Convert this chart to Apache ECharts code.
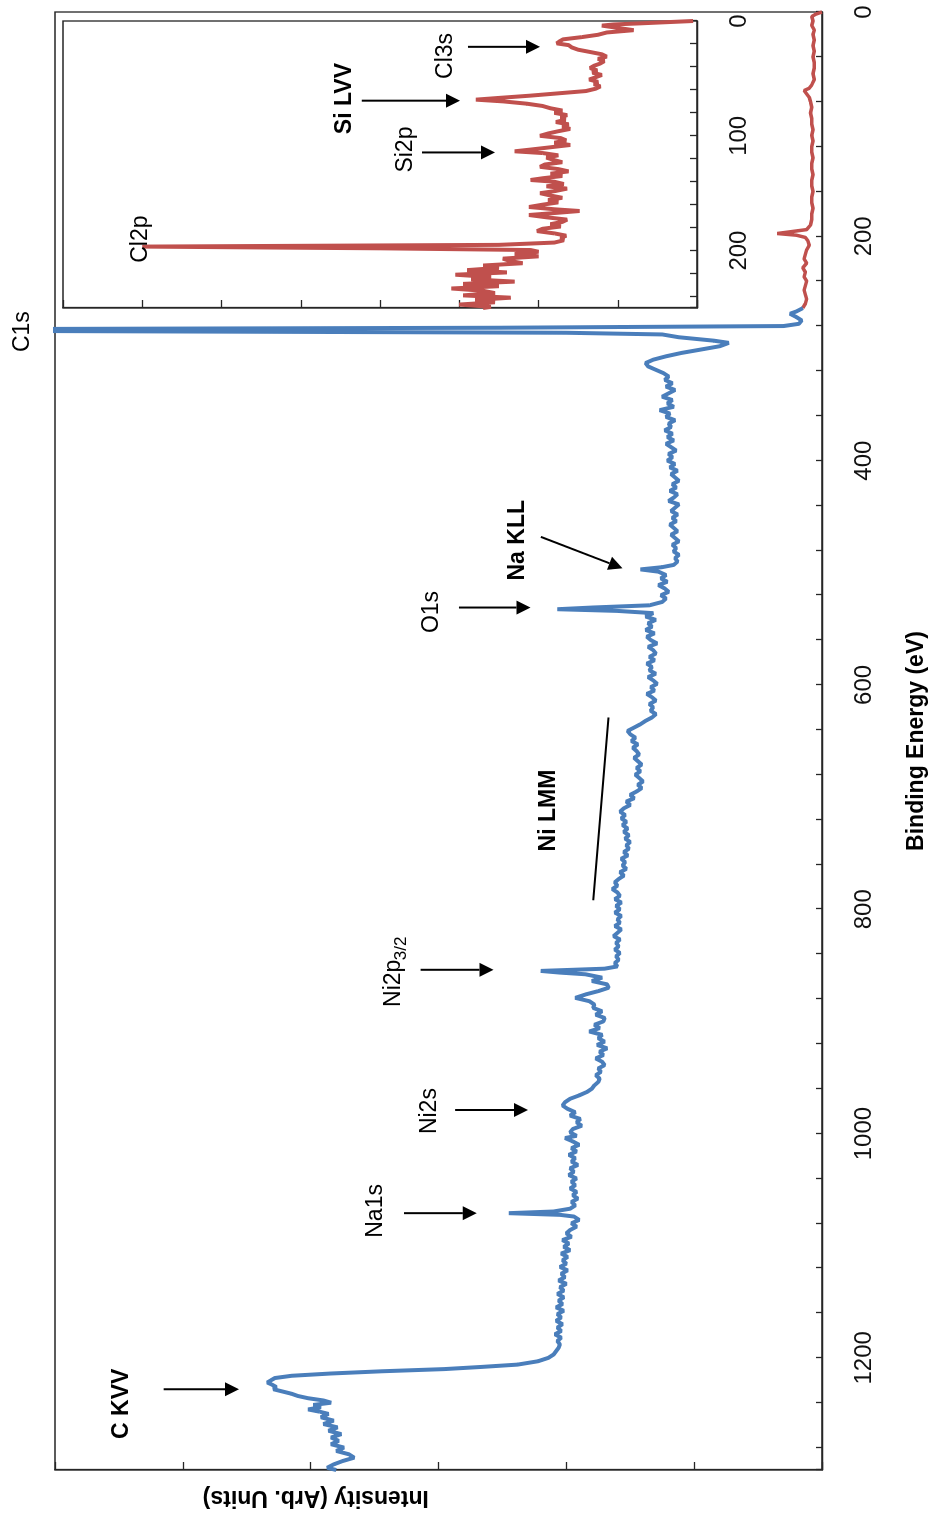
<!DOCTYPE html>
<html>
<head>
<meta charset="utf-8">
<title>XPS survey spectrum</title>
<script src="https://cdn.jsdelivr.net/npm/echarts@6/dist/echarts.min.js"></script>
<style>
  html, body { margin: 0; padding: 0; background: #fff; overflow: hidden; }
  /* drawn landscape, then turned a quarter turn like the printed figure */
  #spectrum {
    position: absolute;
    width: 1519px;
    height: 935px;
    left: -292px;
    top: 292px;
    transform: rotate(-90deg);
  }
</style>
</head>
<body>
<div id="spectrum"></div>
<script>
  // low binding energy part of the survey (red) 0-264 eV
  const lowEnergy = [0, 2, 4, 8, 12, 16, 20, 25, 30, 35, 40, 45, 50, 55, 60, 65, 68, 70, 73, 76,
    80, 85, 90, 95, 100, 105, 110, 115, 120, 125, 130, 135, 140, 145, 150, 155, 160, 165, 170, 175,
    180, 185, 190, 194, 196, 197.5, 199, 201, 204, 208, 212, 216, 220, 224, 228, 232, 236, 240, 244, 248,
    252, 256, 260, 264];
  const lowIntensity = [0.0, 0.05, 0.08, 0.07, 0.08, 0.06, 0.07, 0.06, 0.07, 0.06, 0.07, 0.06, 0.06, 0.07, 0.06, 0.08, 0.10, 0.14, 0.12, 0.10,
    0.09, 0.08, 0.09, 0.08, 0.08, 0.07, 0.08, 0.07, 0.08, 0.08, 0.07, 0.08, 0.08, 0.07, 0.08, 0.08, 0.07, 0.08, 0.08, 0.07,
    0.08, 0.08, 0.09, 0.12, 0.25, 0.35, 0.20, 0.13, 0.11, 0.10, 0.12, 0.13, 0.14, 0.12, 0.15, 0.13, 0.14, 0.12, 0.13, 0.14,
    0.13, 0.12, 0.13, 0.15];

  // rest of the survey (blue) 264-1300 eV
  const surveyEnergy = [264, 267, 269, 272, 275, 278, 280, 281.5, 283, 284.5,
    286, 287.5, 290, 293, 295, 298, 301, 304, 307, 310,
    313, 316, 319, 322, 325, 328, 331, 334, 337, 340,
    343, 346, 349, 352, 355, 358, 361, 364, 367, 370,
    373, 376, 379, 382, 385, 388, 391, 394, 397, 400,
    403, 406, 409, 412, 415, 418, 421, 424, 427, 430,
    433, 436, 439, 442, 445, 448, 451, 454, 457, 460,
    463, 466, 469, 472, 475, 478, 481, 484, 487, 490,
    493, 495, 497, 499, 502, 505, 508, 511, 514, 517,
    520, 523, 526, 529, 531, 532.5, 534, 536, 539, 542,
    545, 548, 551, 554, 557, 560, 563, 566, 569, 572,
    575, 578, 581, 584, 587, 590, 593, 596, 599, 602,
    605, 608, 611, 614, 617, 620, 623, 626, 629, 632,
    635, 638, 641, 644, 647, 650, 653, 656, 659, 662,
    665, 668, 671, 674, 677, 680, 683, 686, 689, 692,
    695, 698, 701, 704, 707, 710, 713, 716, 719, 722,
    725, 728, 731, 734, 737, 740, 743, 746, 749, 752,
    755, 758, 761, 764, 767, 770, 773, 776, 779, 782,
    785, 788, 791, 794, 797, 800, 803, 806, 809, 812,
    815, 818, 821, 824, 827, 830, 833, 836, 839, 842,
    845, 848, 851, 853, 855, 856.5, 858, 861, 864, 867,
    870, 873, 876, 879, 882, 885, 888, 891, 894, 897,
    900, 903, 906, 909, 912, 915, 918, 921, 924, 927,
    930, 933, 936, 939, 942, 945, 948, 951, 954, 957,
    960, 963, 966, 969, 972, 975, 978, 981, 984, 987,
    990, 993, 996, 999, 1002, 1004, 1007, 1010, 1013, 1016,
    1019, 1022, 1025, 1028, 1031, 1034, 1037, 1040, 1043, 1046,
    1049, 1052, 1055, 1058, 1061, 1064, 1067, 1069.5, 1071, 1072.5,
    1074, 1077, 1080, 1083, 1086, 1089, 1092, 1095, 1098, 1101,
    1104, 1107, 1110, 1113, 1116, 1119, 1122, 1125, 1128, 1131,
    1134, 1137, 1140, 1143, 1146, 1149, 1152, 1155, 1158, 1161,
    1164, 1167, 1170, 1173, 1176, 1179, 1182, 1185, 1188, 1191,
    1194, 1197, 1200, 1203, 1206, 1208, 1210, 1212, 1214, 1216,
    1218, 1220, 1222, 1224, 1226, 1228, 1230, 1232, 1234, 1236,
    1238, 1240, 1242, 1244, 1246, 1248, 1250, 1253, 1256, 1259,
    1262, 1265, 1268, 1271, 1274, 1277, 1280, 1283, 1286, 1289,
    1292, 1295, 1298, 1300];
  const surveyIntensity = [0.15, 0.20, 0.25, 0.20, 0.16, 0.18, 0.30, 2.5, 7.5, 6.0,
    2.0, 1.25, 1.12, 0.85, 0.73, 0.80, 0.95, 1.10, 1.22, 1.32,
    1.38, 1.36, 1.30, 1.24, 1.20, 1.23, 1.17, 1.22, 1.15, 1.20,
    1.25, 1.17, 1.21, 1.16, 1.27, 1.19, 1.22, 1.15, 1.20, 1.18,
    1.23, 1.17, 1.21, 1.16, 1.22, 1.18, 1.14, 1.20, 1.17, 1.21,
    1.15, 1.19, 1.13, 1.18, 1.15, 1.12, 1.17, 1.14, 1.19, 1.13,
    1.16, 1.20, 1.12, 1.15, 1.18, 1.13, 1.17, 1.14, 1.19, 1.16,
    1.13, 1.18, 1.15, 1.12, 1.17, 1.14, 1.16, 1.12, 1.15, 1.13,
    1.16, 1.25, 1.42, 1.28, 1.22, 1.26, 1.21, 1.28, 1.23, 1.20,
    1.26, 1.22, 1.25, 1.35, 1.80, 2.07, 1.60, 1.32, 1.38, 1.30,
    1.36, 1.33, 1.38, 1.31, 1.37, 1.34, 1.29, 1.36, 1.32, 1.30,
    1.35, 1.31, 1.37, 1.33, 1.35, 1.30, 1.36, 1.32, 1.29, 1.34,
    1.31, 1.37, 1.33, 1.30, 1.35, 1.32, 1.34, 1.30, 1.33, 1.38,
    1.42, 1.47, 1.52, 1.50, 1.46, 1.49, 1.44, 1.48, 1.45, 1.43,
    1.47, 1.44, 1.41, 1.45, 1.42, 1.46, 1.43, 1.40, 1.44, 1.41,
    1.45, 1.50, 1.47, 1.53, 1.50, 1.55, 1.58, 1.54, 1.57, 1.53,
    1.56, 1.52, 1.55, 1.51, 1.54, 1.50, 1.53, 1.51, 1.55, 1.52,
    1.57, 1.54, 1.56, 1.53, 1.58, 1.55, 1.59, 1.62, 1.60, 1.64,
    1.60, 1.58, 1.62, 1.57, 1.61, 1.58, 1.62, 1.57, 1.60, 1.58,
    1.62, 1.57, 1.60, 1.63, 1.58, 1.61, 1.59, 1.62, 1.58, 1.61,
    1.59, 1.62, 1.60, 1.70, 2.20, 2.05, 1.85, 1.72, 1.80, 1.68,
    1.67, 1.75, 1.85, 1.93, 1.82, 1.78, 1.79, 1.72, 1.77, 1.70,
    1.71, 1.78, 1.74, 1.82, 1.72, 1.75, 1.70, 1.76, 1.68, 1.74,
    1.71, 1.77, 1.72, 1.70, 1.75, 1.73, 1.77, 1.74, 1.75, 1.78,
    1.80, 1.84, 1.90, 1.97, 2.01, 2.03, 1.99, 1.93, 1.97, 1.89,
    1.92, 1.88, 1.95, 1.97, 1.92, 2.01, 1.95, 1.90, 1.96, 1.92,
    1.98, 1.93, 1.96, 1.91, 1.97, 1.94, 1.98, 1.92, 1.96, 1.93,
    1.97, 1.92, 1.95, 1.91, 1.96, 1.93, 1.97, 2.10, 2.45, 2.05,
    1.94, 1.90, 1.96, 1.92, 1.97, 2.00, 1.96, 2.03, 1.98, 2.02,
    1.97, 2.04, 1.99, 2.03, 2.00, 2.05, 1.99, 2.04, 2.01, 2.06,
    2.00, 2.05, 2.02, 2.07, 2.02, 2.06, 2.03, 2.08, 2.02, 2.07,
    2.04, 2.08, 2.03, 2.07, 2.04, 2.09, 2.04, 2.07, 2.05, 2.06,
    2.08, 2.10, 2.14, 2.22, 2.38, 2.65, 2.95, 3.45, 3.85, 4.15,
    4.28, 4.31, 4.34, 4.30, 4.27, 4.29, 4.22, 4.15, 4.10, 4.02,
    3.90, 3.84, 3.98, 3.92, 4.02, 3.93, 3.86, 3.92, 3.82, 3.90,
    3.79, 3.86, 3.76, 3.84, 3.78, 3.84, 3.74, 3.80, 3.70, 3.66,
    3.75, 3.82, 3.87, 3.80];

  // inset: 0-250 eV window, own intensity scale
  const insetEnergy = [0, 1, 2, 3, 4, 6, 8, 10, 12, 14, 16, 18, 19.5, 21, 23, 25, 27, 29, 31, 33,
    35, 37, 39, 41, 43, 45, 47, 49, 51, 53, 55, 57, 59, 61, 63, 65, 67, 68.5, 70, 72,
    74, 76, 78, 80, 82, 84, 86, 88, 90, 92, 94, 96, 98, 100, 102, 104, 106, 108, 110, 112,
    113.5, 115, 117, 119, 121, 123, 125, 127, 129, 131, 133, 135, 137, 138.5, 140, 142, 144, 146, 148, 150,
    152, 154, 156, 158, 160, 162, 164, 165.5, 167, 169, 171, 173, 175, 177, 179, 181, 183, 185, 187, 189,
    191, 193, 195, 196.5, 198, 199.5, 201, 203, 205, 207, 209, 211, 213, 215, 217, 219, 221, 223, 225, 227,
    229, 231, 233, 235, 237, 239, 241, 243, 245, 247, 249, 250];
  const insetIntensity = [0.05, 0.06, 0.70, 1.05, 1.20, 1.00, 0.80, 1.14, 1.25, 1.45, 1.69, 1.74, 1.77, 1.62, 1.58, 1.50, 1.35, 1.20, 1.14, 1.25,
    1.17, 1.22, 1.30, 1.35, 1.26, 1.32, 1.20, 1.28, 1.36, 1.25, 1.30, 1.22, 1.28, 1.40, 1.75, 2.10, 2.50, 2.79, 2.45, 2.15,
    1.95, 1.85, 1.70, 1.80, 1.64, 1.72, 1.66, 1.78, 1.62, 1.70, 1.60, 1.75, 1.88, 1.98, 1.72, 1.65, 1.80, 1.60, 1.85, 2.10,
    2.30, 1.95, 1.75, 1.90, 1.81, 1.70, 1.92, 1.98, 1.75, 1.62, 1.85, 1.70, 1.95, 2.10, 1.80, 1.68, 1.90, 1.64, 1.78, 1.98,
    1.85, 1.70, 1.88, 1.75, 1.95, 2.12, 1.80, 1.48, 1.75, 2.12, 1.90, 1.64, 1.70, 1.85, 1.72, 1.95, 2.02, 1.80, 1.65, 1.72,
    1.68, 1.80, 2.50, 7.00, 4.00, 2.10, 2.00, 2.30, 2.00, 2.45, 2.36, 2.20, 2.70, 2.50, 2.90, 2.40, 3.05, 2.60, 2.85, 2.30,
    2.95, 2.50, 3.10, 2.70, 2.55, 2.95, 2.35, 2.80, 2.55, 3.00, 2.60, 2.70];

  // tick labels
  const mainTickLabels = [0, 200, 400, 600, 800, 1000, 1200];
  const insetTickLabels = [0, 100, 200];

  // peak names, placed at [energy, intensity] of the plot they belong to
  const mainLabels = [['C1s', 285, 6.25], ['O1s', 535, 3.05], ['Na KLL', 471, 2.38], ['Ni LMM', 712, 2.14],
    ['Ni2p', 866, 3.35], ['Ni2s', 980, 3.07], ['Na1s', 1069, 3.49], ['C KVV', 1241, 5.48]];
  const mainSubLabels = [['3/2', 835, 3.29]];
  const insetLabels = [['Cl2p', 190, 7.02], ['Si2p', 112, 3.68], ['Si LVV', 67.6, 4.45], ['Cl3s', 30.4, 3.17]];
  const boldLabels = ['Na KLL', 'Ni LMM', 'C KVV', 'Si LVV'];

  // arrows [fromE, fromI, toE, toI]
  const mainArrows = [[1228, 5.15, 1228, 4.56], [1071, 3.27, 1071, 2.70], [979, 2.87, 979, 2.30],
    [854, 3.14, 854, 2.57], [531, 2.84, 531, 2.28], [468, 2.20, 496, 1.56]];
  const mainBars = [[629, 1.67, 792, 1.79]];
  const insetArrows = [[22.5, 2.89, 22.5, 1.98], [69.4, 4.23, 69.4, 2.99], [114.5, 3.47, 114.5, 2.55]];

  const axisColor = '#262626';
  const fontFamily = '"Liberation Sans", Arial, sans-serif';
  const pairs = (xs, ys) => xs.map((x, i) => [x, ys[i]]);

  const chart = echarts.init(document.getElementById('spectrum'));

  function energyAxis(idx, max, step, labels) {
    return {
      type: 'value',
      gridIndex: idx,
      min: 0,
      max: max,
      interval: step,
      inverse: true,
      name: idx === 0 ? 'Binding Energy (eV)' : '',
      nameLocation: 'middle',
      nameGap: 83,
      nameTextStyle: {fontSize: 23, fontWeight: 'bold', color: '#000', fontFamily: fontFamily},
      axisLine: {show: true, onZero: false, lineStyle: {color: axisColor, width: 1.3}},
      axisTick: {show: true, inside: true, length: idx === 0 ? 6 : 7, lineStyle: {color: axisColor, width: 1.3}},
      axisLabel: {
        margin: 30,
        fontSize: 24,
        color: '#111',
        fontFamily: fontFamily,
        formatter: v => labels.indexOf(v) >= 0 ? String(v) : ''
      },
      splitLine: {show: false}
    };
  }

  function intensityAxis(idx, max) {
    return {
      type: 'value',
      gridIndex: idx,
      position: 'left',
      min: 0,
      max: max,
      interval: 1,
      // energy axis is reversed, keep this one on the high-energy side
      axisLine: {show: true, onZero: false, lineStyle: {color: axisColor, width: 1.3}},
      axisTick: {show: true, inside: true, length: 8, lineStyle: {color: axisColor, width: 1.3}},
      axisLabel: {show: false},
      splitLine: {show: false}
    };
  }

  chart.setOption({
    animation: false,
    backgroundColor: '#fff',
    grid: [
      {left: 49, right: 12, top: 55, bottom: 113, show: true, borderColor: axisColor, borderWidth: 1.3},
      {left: 1211, width: 287, top: 63, height: 634, show: true, backgroundColor: '#fff', borderColor: axisColor, borderWidth: 1.3}
    ],
    xAxis: [energyAxis(0, 1300, 40, mainTickLabels), energyAxis(1, 250, 20, insetTickLabels)],
    yAxis: [intensityAxis(0, 6), intensityAxis(1, 8)],
    series: [
      {
        type: 'line', xAxisIndex: 0, yAxisIndex: 0, showSymbol: false, clip: true,
        data: pairs(lowEnergy, lowIntensity),
        lineStyle: {color: '#C0504D', width: 3.5}, itemStyle: {color: '#C0504D'}
      },
      {
        type: 'line', xAxisIndex: 0, yAxisIndex: 0, showSymbol: false, clip: true,
        data: pairs(surveyEnergy, surveyIntensity),
        lineStyle: {color: '#4A7EBB', width: 4}, itemStyle: {color: '#4A7EBB'}
      },
      {
        type: 'line', xAxisIndex: 1, yAxisIndex: 1, showSymbol: false, clip: true,
        data: pairs(insetEnergy, insetIntensity),
        lineStyle: {color: '#C0504D', width: 4}, itemStyle: {color: '#C0504D'}
      }
    ]
  });

  // annotations: everything is placed through the axes
  function arrow(p, q, head) {
    const dx = q[0] - p[0], dy = q[1] - p[1];
    const len = Math.hypot(dx, dy);
    const ux = dx / len, uy = dy / len;
    const bx = head ? q[0] - ux * 14 : q[0];
    const by = head ? q[1] - uy * 14 : q[1];
    const els = [{
      type: 'line', z: 100,
      shape: {x1: p[0], y1: p[1], x2: bx, y2: by},
      style: {stroke: '#000', lineWidth: 2}
    }];
    if (head) {
      els.push({
        type: 'polygon', z: 100,
        shape: {points: [[q[0], q[1]], [bx - uy * 7, by + ux * 7], [bx + uy * 7, by - ux * 7]]},
        style: {fill: '#000'}
      });
    }
    return els;
  }

  function label(pt, text, size) {
    return {
      type: 'text', z: 100, x: pt[0], y: pt[1],
      style: {
        text: text, fill: '#000', fontSize: size, fontFamily: fontFamily,
        fontWeight: boldLabels.indexOf(text) >= 0 ? 'bold' : 'normal',
        align: 'center', verticalAlign: 'middle'
      }
    };
  }

  const toPx = (grid, e, v) => chart.convertToPixel({gridIndex: grid}, [e, v]);
  let graphics = [];
  mainLabels.forEach(l => graphics.push(label(toPx(0, l[1], l[2]), l[0], 23)));
  mainSubLabels.forEach(l => graphics.push(label(toPx(0, l[1], l[2]), l[0], 17)));
  insetLabels.forEach(l => graphics.push(label(toPx(1, l[1], l[2]), l[0], 23)));
  mainArrows.forEach(a => { graphics = graphics.concat(arrow(toPx(0, a[0], a[1]), toPx(0, a[2], a[3]), true)); });
  mainBars.forEach(a => { graphics = graphics.concat(arrow(toPx(0, a[0], a[1]), toPx(0, a[2], a[3]), false)); });
  insetArrows.forEach(a => { graphics = graphics.concat(arrow(toPx(1, a[0], a[1]), toPx(1, a[2], a[3]), true)); });

  // y title sits off-centre in the figure
  const titleAt = toPx(0, 1300, 3.96);
  graphics.push({
    type: 'text', z: 100, x: titleAt[0] - 27, y: titleAt[1], rotation: Math.PI / 2,
    style: {
      text: 'Intensity (Arb. Units)', fill: '#000', fontSize: 23, fontWeight: 'bold',
      fontFamily: fontFamily, align: 'center', verticalAlign: 'middle'
    }
  });

  chart.setOption({graphic: graphics});
</script>
</body>
</html>
